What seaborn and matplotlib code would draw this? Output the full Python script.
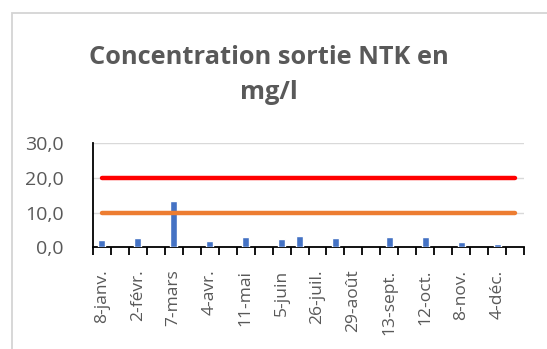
import matplotlib
matplotlib.use("Agg")
import matplotlib.pyplot as plt
from matplotlib.patches import Rectangle
from matplotlib.ticker import FixedLocator, FuncFormatter
import seaborn as sns
import pandas as pd

# Sampling slots along the year (24 slots, every second one labelled)
slot_labels = ["8-janv.", "", "2-févr.", "", "7-mars", "", "4-avr.", "",
               "11-mai", "", "5-juin", "", "26-juil.", "", "29-août", "",
               "13-sept.", "", "12-oct.", "", "8-nov.", "", "4-déc.", ""]
# Slots holding a measurement and the NTK concentration measured (mg/l)
measured_slots = [0, 2, 4, 6, 8, 10, 11, 13, 16, 18, 20, 22]
ntk_values = [2.2, 2.7, 13.3, 1.8, 3.0, 2.3, 3.4, 2.7, 2.9, 3.0, 1.4, 1.0]
# Discharge limits (mg/l)
limit_red = 20.0
limit_orange = 10.0
y_ticks = [0, 10, 20, 30]

TEXT = "#595959"
FONT = ["Open Sans", "DejaVu Sans"]

sns.set_theme(style="white")
plt.rcParams["font.family"] = FONT

W, H = 547, 349
fig = plt.figure(figsize=(W / 100, H / 100), dpi=100)

# chart frame: left and top edges, drawn in pixel coordinates
fx, fy = 11.5, H - 12.5
fig.add_artist(Rectangle((fx, -20), W + 40, fy + 20, transform=None,
                         facecolor="none", edgecolor="#d4d4d4", linewidth=1.3, zorder=10))

ax = fig.add_axes([92.7 / W, 1 - 247.3 / H, (524.3 - 92.7) / W, (247.3 - 143.3) / H])
ax.set_facecolor("none")

n_slots = len(slot_labels)
bars = pd.DataFrame({"slot": measured_slots, "ntk": ntk_values})
sns.barplot(data=bars, x="slot", y="ntk", order=list(range(n_slots)), color="#4472C4",
            saturation=1, width=0.38, ax=ax, zorder=3)

limits = pd.DataFrame({"x": [0, n_slots - 1, 0, n_slots - 1],
                       "y": [limit_red, limit_red, limit_orange, limit_orange],
                       "serie": ["rouge", "rouge", "orange", "orange"]})
sns.lineplot(data=limits, x="x", y="y", hue="serie", palette={"rouge": "#FF0000", "orange": "#ED7D31"},
             linewidth=3.2, legend=False, ax=ax, zorder=4, solid_capstyle="round")

ax.set_xlim(-0.5, n_slots - 0.5)
ax.set_ylim(0, 30)
ax.set_xlabel("")
ax.set_ylabel("")

# y axis
ax.yaxis.set_major_locator(FixedLocator(y_ticks))
ax.yaxis.set_major_formatter(FuncFormatter(lambda v, p: f"{v:.1f}".replace(".", ",")))
ax.grid(axis="y", color="#d9d9d9", linewidth=1.0, zorder=0)
ax.tick_params(axis="y", length=0, pad=21, labelsize=14, labelcolor=TEXT)

# x axis: labels at every second slot, ticks on slot boundaries
label_pos = [i for i, t in enumerate(slot_labels) if t]
ax.set_xticks(label_pos)
ax.set_xticklabels([slot_labels[i] for i in label_pos], rotation=90)
ax.set_xticks([i - 0.5 for i in range(n_slots + 1)], minor=True)
ax.tick_params(axis="x", which="major", length=0, pad=16, labelsize=12.5, labelcolor=TEXT)
ax.tick_params(axis="x", which="minor", length=6, width=1.3, color="black", direction="out", bottom=True)

for side in ("top", "right"):
    ax.spines[side].set_visible(False)
for side in ("left", "bottom"):
    ax.spines[side].set_color("black")
    ax.spines[side].set_linewidth(1.3)

fig.text(269 / W, 1 - 75 / H, "Concentration sortie NTK en\nmg/l", ha="center", va="center",
         fontsize=18.3, fontweight="bold", color=TEXT, linespacing=1.55)

fig.savefig("out.png", dpi=100)
